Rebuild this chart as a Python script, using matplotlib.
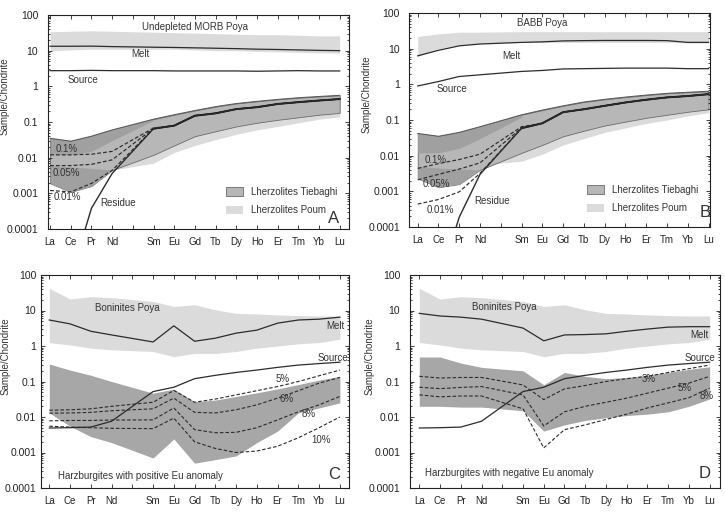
import numpy as np
import matplotlib
matplotlib.use("Agg")
import matplotlib.pyplot as plt
from matplotlib.ticker import FixedLocator, NullFormatter, FuncFormatter

plt.rcParams['font.family'] = ['Liberation Sans', 'DejaVu Sans']

# REE order, Pm is left out (gap on the x axis)
ree = ['La', 'Ce', 'Pr', 'Nd', 'Sm', 'Eu', 'Gd', 'Tb', 'Dy', 'Ho', 'Er', 'Tm', 'Yb', 'Lu']
ree_pos = [0, 1, 2, 3, 5, 6, 7, 8, 9, 10, 11, 12, 13, 14]
y_ticks = [1e-4, 1e-3, 1e-2, 1e-1, 1, 10, 100]

# ---- panel A : undepleted MORB Poya
morbA_hi = [34, 35, 36, 35, 33, 32, 31, 30, 29, 28, 28, 27, 26, 26]
morbA_lo = [10, 10.5, 11, 11, 11, 11, 10.5, 10, 10, 9.5, 9.3, 9, 8.7, 8.5]
meltA = [13.3, 13.3, 13.4, 13, 12.5, 12.3, 12, 11.7, 11.4, 11, 10.8, 10.5, 10.2, 10]
sourceA = [2.75, 2.75, 2.8, 2.75, 2.75, 2.7, 2.7, 2.7, 2.7, 2.65, 2.7, 2.75, 2.7, 2.7]
tiebA_hi = [0.035, 0.029, 0.04, 0.06, 0.12, 0.16, 0.21, 0.27, 0.33, 0.38, 0.43, 0.48, 0.52, 0.56]
tiebA_lo = [0.0019, 0.0011, 0.0016, 0.0045, 0.012, 0.022, 0.04, 0.055, 0.075, 0.095, 0.115, 0.135, 0.16, 0.18]
tiebA_core_lo = [0.012, 0.012, 0.015, 0.03, 0.11]          # La..Sm, darker part
tiebA_pocket_hi = [0.006, 0.0055, 0.005, 0.0045]            # La..Nd, darker lower lobe
poumA_lo = [0.004, 0.004, 0.0042, 0.0045, 0.007, 0.014, 0.022, 0.032, 0.045, 0.06, 0.075, 0.095, 0.12, 0.14]
residueA = [1e-6, 4.5e-6, 0.00038, 0.0036, 0.065, 0.079, 0.15, 0.175, 0.23, 0.26, 0.32, 0.36, 0.40, 0.44]
meltA_01 = [0.012, 0.012, 0.0125, 0.015, 0.068]     # La..Sm, then follows the residue
meltA_005 = [0.006, 0.006, 0.0065, 0.0087, 0.066]
meltA_001 = [0.0012, 0.0011, 0.0019, 0.0044, 0.065]

# ---- panel B : BABB Poya
babb_hi = [22, 26, 29, 29, 30, 30, 30, 30, 30, 30, 30, 30, 30, 30]
babb_lo = [6, 10, 13, 14, 15, 15, 15, 15, 15, 15, 15, 15, 14.5, 14.5]
meltB = [6.3, 9, 12, 13.5, 15, 15.5, 16.5, 16.8, 17, 17, 17, 16.8, 15, 15]
sourceB = [0.9, 1.2, 1.66, 1.85, 2.3, 2.45, 2.7, 2.75, 2.8, 2.85, 2.85, 2.85, 2.75, 2.75]
tiebB_hi = [0.042, 0.035, 0.045, 0.065, 0.14, 0.19, 0.25, 0.32, 0.38, 0.44, 0.5, 0.56, 0.6, 0.64]
tiebB_lo = [0.0023, 0.0013, 0.0016, 0.004, 0.012, 0.02, 0.035, 0.05, 0.07, 0.09, 0.115, 0.14, 0.17, 0.2]
tiebB_core_lo = [0.012, 0.012, 0.016, 0.03, 0.12]
tiebB_pocket_hi = [0.005, 0.0045, 0.0042, 0.004]
poumB_lo = [0.004, 0.004, 0.0045, 0.0055, 0.007, 0.011, 0.02, 0.03, 0.045, 0.06, 0.08, 0.1, 0.13, 0.16]
residueB = [1e-6, 2.5e-6, 0.00019, 0.003, 0.059, 0.081, 0.166, 0.2, 0.25, 0.31, 0.37, 0.43, 0.47, 0.53]
meltB_01 = [0.0044, 0.006, 0.0078, 0.011, 0.065]
meltB_005 = [0.0021, 0.003, 0.0042, 0.0063, 0.06]
meltB_001 = [0.00044, 0.00059, 0.00097, 0.0032, 0.058]

# ---- panels C and D : boninites Poya + harzburgites
bon_hi = [42, 21, 24.5, 23, 18, 13, 14.5, 10.5, 8.3, 8, 7.5, 7.2, 7, 7]
bon_lo = [1.25, 1.07, 0.87, 0.78, 0.7, 0.5, 0.62, 0.62, 0.7, 0.87, 1.0, 1.15, 1.25, 1.55]
source_harz = [0.0049, 0.005, 0.0052, 0.0076, 0.052, 0.069, 0.12, 0.149, 0.18, 0.21, 0.25, 0.29, 0.32, 0.35]

meltC = [5.4, 4.2, 2.6, 2.05, 1.3, 3.7, 1.36, 1.66, 2.3, 2.8, 4.4, 5.4, 5.7, 6.5]
harzC_hi = [0.31, 0.21, 0.15, 0.1, 0.047, 0.061, 0.027, 0.03, 0.038, 0.048, 0.062, 0.082, 0.11, 0.14]
harzC_lo = [0.013, 0.0055, 0.0028, 0.0019, 0.0007, 0.0024, 0.0005, 0.00063, 0.0008, 0.0019, 0.004, 0.013, 0.018, 0.025]
meltC_5 = [0.0155, 0.016, 0.017, 0.02, 0.026, 0.056, 0.026, 0.032, 0.042, 0.055, 0.072, 0.1, 0.145, 0.21]
meltC_6 = [0.0128, 0.013, 0.0135, 0.015, 0.017, 0.034, 0.0135, 0.013, 0.016, 0.022, 0.034, 0.055, 0.09, 0.13]
meltC_8 = [0.0078, 0.008, 0.008, 0.0082, 0.0083, 0.018, 0.0044, 0.0036, 0.0037, 0.005, 0.0083, 0.014, 0.022, 0.038]
meltC_10 = [0.0055, 0.0052, 0.005, 0.0048, 0.0047, 0.0093, 0.002, 0.0013, 0.001, 0.0011, 0.0015, 0.0026, 0.005, 0.01]

meltD = [8.3, 7.0, 6.5, 5.7, 3.2, 1.4, 2.05, 2.1, 2.2, 2.6, 3.0, 3.4, 3.5, 3.5]
harzD_hi = [0.49, 0.49, 0.33, 0.25, 0.2, 0.081, 0.18, 0.14, 0.12, 0.13, 0.15, 0.18, 0.22, 0.26]
harzD_lo = [0.02, 0.02, 0.019, 0.019, 0.015, 0.004, 0.006, 0.008, 0.0095, 0.011, 0.012, 0.014, 0.02, 0.032]
meltD_3 = [0.14, 0.125, 0.13, 0.13, 0.08, 0.031, 0.062, 0.077, 0.1, 0.12, 0.14, 0.18, 0.23, 0.29]
meltD_5 = [0.069, 0.063, 0.068, 0.072, 0.042, 0.0056, 0.014, 0.02, 0.026, 0.034, 0.047, 0.065, 0.09, 0.14]
meltD_8 = [0.042, 0.037, 0.039, 0.039, 0.017, 0.00135, 0.0044, 0.006, 0.0085, 0.012, 0.018, 0.025, 0.035, 0.065]

LIGHT = '#dbdbdb'
MID = '#b7b7b7'
DARK = '#a0a0a0'
HARZ = '#a7a7a7'
LINE = '#2b2b2b'
TXT = '#333333'
DASH = (0, (3.2, 1.8))

W, H = 725, 514
fig = plt.figure(figsize=(W / 100, H / 100), dpi=100)


def box(l, r, t, b):
    return [l / W, 1 - b / H, (r - l) / W, (b - t) / H]


def setup(ax, xlim, ypad, lab_x, xpad=5.5):
    ax.set_yscale('log')
    ax.set_ylim(1e-4, 100)
    ax.set_xlim(*xlim)
    ax.set_xticks(range(15))
    labels = [''] * 15
    for p, n in zip(ree_pos, ree):
        labels[p] = n
    ax.set_xticklabels(labels)
    minors = [m * v for v in y_ticks[:-1] for m in range(2, 10)]
    ax.yaxis.set_major_locator(FixedLocator(y_ticks))
    ax.yaxis.set_minor_locator(FixedLocator(minors))
    ax.yaxis.set_minor_formatter(NullFormatter())
    ax.yaxis.set_major_formatter(FuncFormatter(lambda v, p: '%g' % v))
    ax.tick_params(which='both', direction='in', top=True, right=True, width=0.6, colors='#222222')
    ax.tick_params(which='major', length=3)
    ax.tick_params(which='minor', length=1.6)
    ax.tick_params(axis='x', pad=xpad, labelsize=7)
    ax.tick_params(axis='y', pad=ypad, labelsize=7.5)
    for s in ax.spines.values():
        s.set_linewidth(0.8)
        s.set_color('#222222')
    ax.set_ylabel('Sample/Chondrite', fontsize=7, color=TXT)
    ax.yaxis.set_label_coords(lab_x, 0.62)


def t(ax, x, y, s, **kw):
    ax.text(x, y, s, fontsize=7, color=TXT, ha='center', va='center', **kw)


def lherzolite_panel(ax, mhi, mlo, melt, source, thi, tlo, core_lo, pocket_hi, plo,
                     residue, d01, d005, d001):
    ax.fill_between(ree_pos, mlo, mhi, color=LIGHT, lw=0)
    poum = ax.fill_between(ree_pos, plo, thi, color=LIGHT, lw=0, label='Lherzolites Poum')
    tieb = ax.fill_between(ree_pos, tlo, thi, facecolor=MID, edgecolor='#6a6a6a', lw=0.6,
                           label='Lherzolites Tiebaghi')
    ax.fill_between(ree_pos[:5], core_lo, thi[:5], color=DARK, lw=0)
    ax.fill_between(ree_pos[:4], tlo[:4], pocket_hi, color=DARK, lw=0)
    ax.plot(ree_pos, thi, color='#555555', lw=0.7)
    ax.plot(ree_pos, melt, color=LINE, lw=0.9)
    ax.plot(ree_pos, source, color=LINE, lw=0.9)
    ax.plot(ree_pos, residue, color=LINE, lw=1.0)
    ax.plot(ree_pos[4:], residue[4:], color='#1a1a1a', lw=1.4)
    for d in (d01, d005, d001):
        ax.plot(ree_pos, list(d) + residue[5:], color=LINE, lw=0.85, ls=DASH)
    leg = ax.legend(handles=[tieb, poum], loc='lower left', bbox_to_anchor=(0.59, 0.065),
                    frameon=False, fontsize=7, handlelength=1.8, handleheight=0.9,
                    handletextpad=0.8, labelspacing=0.85, borderpad=0, borderaxespad=0)
    for tx in leg.get_texts():
        tx.set_color(TXT)


def harz_panel(ax, melt, hhi, hlo, dashed):
    ax.fill_between(ree_pos, bon_lo, bon_hi, color=LIGHT, lw=0)
    ax.fill_between(ree_pos, hlo, hhi, color=HARZ, lw=0)
    ax.plot(ree_pos, melt, color=LINE, lw=0.9)
    ax.plot(ree_pos, source_harz, color=LINE, lw=0.9)
    for d in dashed:
        ax.plot(ree_pos, d, color=LINE, lw=0.8, ls=DASH)


# ---------- A
axA = fig.add_axes(box(48, 349, 15, 229))
setup(axA, (-0.1, 14.45), 7, -0.128)
lherzolite_panel(axA, morbA_hi, morbA_lo, meltA, sourceA, tiebA_hi, tiebA_lo, tiebA_core_lo,
                 tiebA_pocket_hi, poumA_lo, residueA, meltA_01, meltA_005, meltA_001)
t(axA, 7.0, 46, 'Undepleted MORB Poya')
t(axA, 4.35, 8.1, 'Melt')
t(axA, 1.6, 1.5, 'Source')
t(axA, 0.8, 0.017, '0.1%')
t(axA, 0.8, 0.0037, '0.05%')
t(axA, 0.85, 0.0008, '0.01%')
t(axA, 3.3, 0.00054, 'Residue')
axA.text(0.95, 0.05, 'A', transform=axA.transAxes, fontsize=12, color=TXT, ha='center', va='center')

# ---------- B
axB = fig.add_axes(box(409, 710, 13, 227))
setup(axB, (-0.42, 14.07), 6.5, -0.125)
lherzolite_panel(axB, babb_hi, babb_lo, meltB, sourceB, tiebB_hi, tiebB_lo, tiebB_core_lo,
                 tiebB_pocket_hi, poumB_lo, residueB, meltB_01, meltB_005, meltB_001)
t(axB, 5.98, 53, 'BABB Poya')
t(axB, 4.49, 6.3, 'Melt')
t(axB, 1.65, 0.74, 'Source')
t(axB, 0.85, 0.0074, '0.1%')
t(axB, 0.9, 0.0016, '0.05%')
t(axB, 1.07, 0.0003, '0.01%')
t(axB, 3.6, 0.00053, 'Residue')
axB.text(0.983, 0.07, 'B', transform=axB.transAxes, fontsize=12, color=TXT, ha='center', va='center')

# ---------- C
axC = fig.add_axes(box(41, 349, 275, 488))
setup(axC, (-0.4, 14.44), 3.5, -0.1, xpad=5.5)
harz_panel(axC, meltC, harzC_hi, harzC_lo, [meltC_5, meltC_6, meltC_8, meltC_10])
t(axC, 3.74, 12, 'Boninites Poya')
t(axC, 13.77, 3.6, 'Melt')
t(axC, 13.67, 0.47, 'Source')
t(axC, 11.26, 0.115, '5%')
t(axC, 11.45, 0.032, '6%')
t(axC, 12.5, 0.012, '8%')
t(axC, 13.1, 0.0023, '10%')
axC.text(0.055, 0.056, 'Harzburgites with positive Eu anomaly', transform=axC.transAxes,
         fontsize=7, color=TXT, ha='left', va='center')
axC.text(0.951, 0.065, 'C', transform=axC.transAxes, fontsize=12, color=TXT, ha='center', va='center')

# ---------- D
axD = fig.add_axes(box(410, 720, 275, 488))
setup(axD, (-0.45, 14.5), 7, -0.113, xpad=5.5)
harz_panel(axD, meltD, harzD_hi, harzD_lo, [meltD_3, meltD_5, meltD_8])
t(axD, 4.09, 12.9, 'Boninites Poya')
t(axD, 13.49, 2.1, 'Melt')
t(axD, 13.54, 0.45, 'Source')
t(axD, 11.08, 0.12, '3%')
t(axD, 12.77, 0.067, '5%')
t(axD, 13.88, 0.038, '8%')
axD.text(0.048, 0.07, 'Harzburgites with negative Eu anomaly', transform=axD.transAxes,
         fontsize=7, color=TXT, ha='left', va='center')
axD.text(0.952, 0.07, 'D', transform=axD.transAxes, fontsize=12, color=TXT, ha='center', va='center')

fig.savefig('out.png', dpi=100)
